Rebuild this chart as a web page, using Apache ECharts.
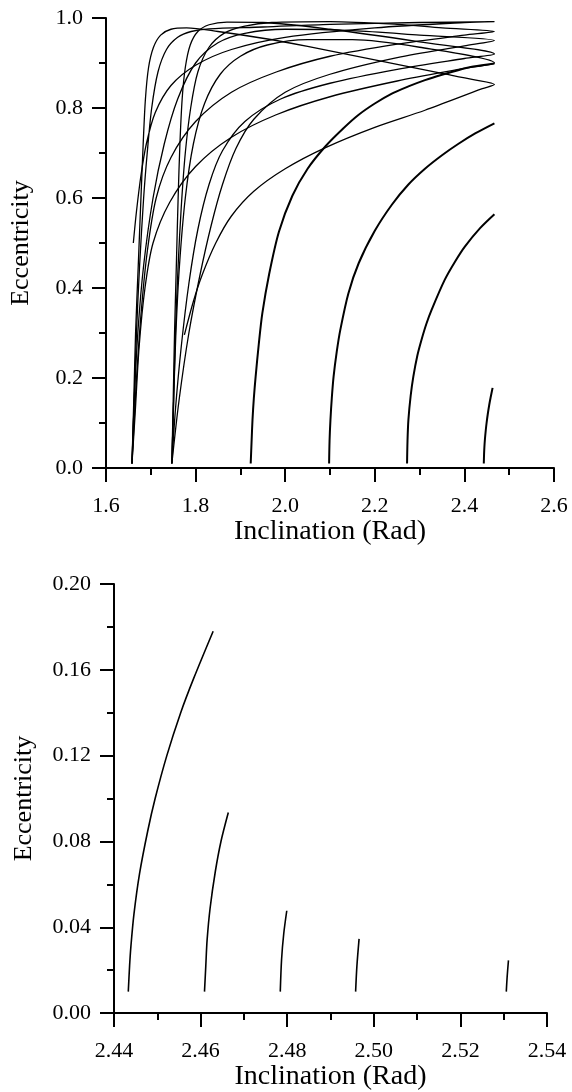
<!DOCTYPE html>
<html>
<head>
<meta charset="utf-8">
<script src="https://cdn.jsdelivr.net/npm/echarts@6/dist/echarts.min.js"></script>
<style>
html,body{margin:0;padding:0;background:#fff;}
#chart{width:572px;height:1092px;}
</style>
</head>
<body>
<div id="chart"></div>
<script>
// ---- tick labels ----
const topXTicks = [1.6, 1.8, 2.0, 2.2, 2.4, 2.6];
const topYTicks = [0.0, 0.2, 0.4, 0.6, 0.8, 1.0];
const botXTicks = [2.44, 2.46, 2.48, 2.50, 2.52, 2.54];
const botYTicks = [0.00, 0.04, 0.08, 0.12, 0.16, 0.20];

// ---- top panel trajectories [inclination, eccentricity]: rising branch, then returning branch ----
const loop1 = [[1.658,0.01],[1.662,0.15],[1.666,0.3],[1.672,0.45],[1.678,0.6],[1.683,0.72],[1.688,0.82],[1.695,0.89],[1.706,0.935],[1.722,0.962],[1.745,0.975],[1.78,0.978],[1.85,0.97],[1.95,0.955],[2.05,0.937],[2.15,0.917],[2.25,0.897],[2.35,0.877],[2.42,0.863],[2.467,0.852],
  [2.44,0.843],[2.312,0.795],[2.2,0.757],[2.09,0.712],[2.0,0.665],[1.93,0.615],[1.88,0.56],[1.845,0.5],[1.815,0.43],[1.795,0.37],[1.775,0.296]];
const loop2 = [[1.747,0.01],[1.75,0.15],[1.753,0.3],[1.757,0.45],[1.761,0.6],[1.765,0.72],[1.77,0.82],[1.777,0.89],[1.788,0.94],[1.805,0.97],[1.83,0.985],[1.87,0.991],[1.95,0.99],[2.1,0.975],[2.3,0.947],[2.467,0.92],
  [2.4,0.91],[2.25,0.886],[2.1,0.855],[1.99,0.82],[1.91,0.77],[1.86,0.705],[1.83,0.63],[1.805,0.53],[1.785,0.41],[1.768,0.27],[1.755,0.13],[1.747,0.01]];
const loop3 = [[1.658,0.01],[1.663,0.15],[1.668,0.3],[1.675,0.45],[1.684,0.6],[1.692,0.7],[1.702,0.8],[1.716,0.88],[1.735,0.93],[1.76,0.957],[1.79,0.97],[1.83,0.976],[1.95,0.98],[2.1,0.986],[2.3,0.99],[2.467,0.992],
  [2.4,0.99],[2.2,0.978],[2.0,0.957],[1.88,0.93],[1.8,0.895],[1.745,0.85],[1.71,0.79],[1.69,0.72],[1.678,0.65],[1.668,0.57],[1.661,0.5]];
const loop4 = [[1.747,0.01],[1.751,0.15],[1.755,0.3],[1.761,0.45],[1.768,0.58],[1.777,0.7],[1.789,0.8],[1.805,0.88],[1.83,0.935],[1.865,0.967],[1.91,0.982],[1.97,0.99],[2.1,0.992],[2.25,0.986],[2.35,0.978],[2.467,0.97],
  [2.4,0.962],[2.25,0.942],[2.1,0.915],[1.98,0.88],[1.88,0.835],[1.8,0.77],[1.745,0.69],[1.712,0.6],[1.692,0.48],[1.678,0.34],[1.667,0.18],[1.658,0.01]];
const loop5 = [[1.658,0.01],[1.663,0.15],[1.671,0.3],[1.684,0.45],[1.705,0.6],[1.73,0.72],[1.76,0.82],[1.8,0.9],[1.85,0.945],[1.91,0.966],[2.0,0.975],[2.15,0.972],[2.3,0.962],[2.467,0.95],
  [2.4,0.938],[2.25,0.912],[2.1,0.875],[2.0,0.835],[1.93,0.775],[1.89,0.71],[1.86,0.63],[1.835,0.54],[1.81,0.43],[1.785,0.3],[1.763,0.15],[1.747,0.01]];
const loop6 = [[1.747,0.01],[1.751,0.15],[1.756,0.3],[1.764,0.45],[1.777,0.6],[1.795,0.72],[1.82,0.81],[1.855,0.875],[1.9,0.915],[1.96,0.94],[2.05,0.952],[2.15,0.952],[2.3,0.935],[2.467,0.9],
  [2.4,0.888],[2.25,0.86],[2.1,0.825],[1.98,0.785],[1.88,0.735],[1.8,0.67],[1.742,0.59],[1.705,0.5],[1.687,0.4],[1.674,0.27],[1.665,0.12],[1.658,0.01]];
const curveC3 = [[1.923,0.01],[1.925,0.06],[1.927,0.107],[1.930,0.155],[1.934,0.203],[1.941,0.275],[1.949,0.344],[1.964,0.43],[1.986,0.525],[2.016,0.605],[2.05,0.665],[2.09,0.715],[2.13,0.755],[2.164,0.785],[2.2,0.81],[2.238,0.832],[2.275,0.848],[2.312,0.862],[2.35,0.874],[2.386,0.884],[2.42,0.892],[2.467,0.899]];
const curveC4 = [[2.098,0.01],[2.099,0.06],[2.101,0.107],[2.104,0.155],[2.108,0.203],[2.115,0.258],[2.123,0.307],[2.141,0.388],[2.164,0.455],[2.2,0.527],[2.238,0.585],[2.275,0.63],[2.312,0.665],[2.35,0.695],[2.386,0.72],[2.425,0.744],[2.467,0.766]];
const curveC5 = [[2.272,0.01],[2.273,0.06],[2.275,0.107],[2.28,0.16],[2.286,0.203],[2.295,0.25],[2.304,0.284],[2.315,0.32],[2.327,0.352],[2.356,0.418],[2.38,0.46],[2.401,0.492],[2.435,0.533],[2.467,0.564]];
const curveC6 = [[2.4433,0.01],[2.4439,0.031],[2.4446,0.046],[2.4459,0.065],[2.4478,0.085],[2.4495,0.100],[2.4522,0.120],[2.4554,0.140],[2.4584,0.156],[2.4629,0.178]];

// ---- bottom panel curves ----
const low1 = [[2.4433,0.01],[2.4436,0.022],[2.4439,0.031],[2.4446,0.046],[2.4459,0.065],[2.4478,0.085],[2.4495,0.100],[2.4522,0.120],[2.4554,0.140],[2.4584,0.156],[2.4629,0.178]];
const low2 = [[2.4609,0.01],[2.4612,0.022],[2.4615,0.034],[2.4622,0.049],[2.4634,0.066],[2.4647,0.080],[2.4664,0.0935]];
const low3 = [[2.4784,0.01],[2.4787,0.025],[2.4792,0.037],[2.4799,0.0477]];
const low4 = [[2.4958,0.01],[2.4961,0.022],[2.4966,0.0346]];
const low5 = [[2.5306,0.01],[2.5308,0.017],[2.5311,0.0246]];

const topThin = [loop1,loop2,loop3,loop4,loop5,loop6];
const topThick = [curveC3,curveC4,curveC5,curveC6];
const bottomCurves = [low1,low2,low3,low4,low5];

const FONT = 'Liberation Serif';
function axisCommon(min,max,interval,dec){
  return {
    min:min, max:max, interval:interval,
    axisLine:{show:true,onZero:false,lineStyle:{color:'#000',width:2}},
    axisTick:{show:true,inside:false,length:14,lineStyle:{color:'#000',width:2}},
    minorTick:{show:true,splitNumber:2,length:7,lineStyle:{color:'#000',width:2}},
    splitLine:{show:false},
    axisLabel:{color:'#000',fontFamily:FONT,fontSize:22,margin:23,formatter:v=>v.toFixed(dec)},
    nameTextStyle:{color:'#000',fontFamily:FONT,fontSize:26},
    nameLocation:'middle'
  };
}
const series = [];
topThin.forEach(d=>series.push({type:'line',xAxisIndex:0,yAxisIndex:0,data:d,showSymbol:false,smooth:0.3,lineStyle:{color:'#000',width:1.3},silent:true,animation:false}));
topThick.forEach(d=>series.push({type:'line',xAxisIndex:0,yAxisIndex:0,data:d,showSymbol:false,smooth:0.3,lineStyle:{color:'#000',width:2},silent:true,animation:false}));
bottomCurves.forEach(d=>series.push({type:'line',xAxisIndex:1,yAxisIndex:1,data:d,showSymbol:false,smooth:0.3,lineStyle:{color:'#000',width:1.6},silent:true,animation:false}));

const xName = {color:'#000',fontFamily:FONT,fontSize:28};
const chart = echarts.init(document.getElementById('chart'),null,{renderer:'canvas'});
const x0 = Object.assign(axisCommon(1.6,2.6,0.2,1),{type:'value',gridIndex:0,name:'Inclination (Rad)',nameGap:44,nameTextStyle:xName});
x0.axisLabel.margin = 27;
const x1 = Object.assign(axisCommon(2.44,2.54,0.02,2),{type:'value',gridIndex:1,name:'Inclination (Rad)',nameGap:44,nameTextStyle:xName});
x1.axisLabel.margin = 27;
chart.setOption({
  backgroundColor:'#fff',
  animation:false,
  grid:[
    {left:103,top:18,width:451,height:450},
    {left:114,top:584,width:433,height:433}
  ],
  xAxis:[x0,x1],
  yAxis:[
    Object.assign(axisCommon(0,1.0,0.2,1),{type:'value',gridIndex:0,name:'Eccentricity',nameGap:72}),
    Object.assign(axisCommon(0,0.2,0.04,2),{type:'value',gridIndex:1,name:'Eccentricity',nameGap:77})
  ],
  series:series
});
</script>
</body>
</html>
